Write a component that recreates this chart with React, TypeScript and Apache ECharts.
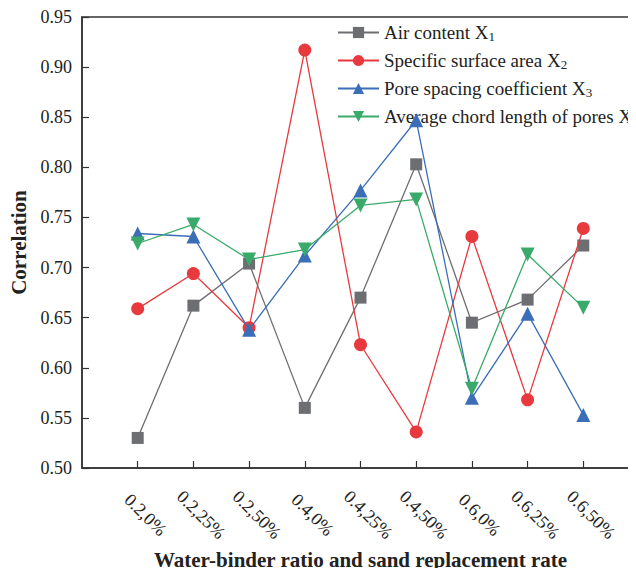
import React, { useEffect, useRef } from "react";
import * as echarts from "echarts";

const categories = ["0.2,0%", "0.2,25%", "0.2,50%", "0.4,0%", "0.4,25%", "0.4,50%", "0.6,0%", "0.6,25%", "0.6,50%"];
const airContent = [0.530, 0.662, 0.704, 0.560, 0.670, 0.803, 0.645, 0.668, 0.722];
const specificSurface = [0.659, 0.694, 0.640, 0.917, 0.623, 0.536, 0.731, 0.568, 0.739];
const poreSpacing = [0.734, 0.731, 0.638, 0.712, 0.777, 0.847, 0.570, 0.654, 0.553];
const chordLength = [0.724, 0.743, 0.708, 0.718, 0.762, 0.768, 0.579, 0.713, 0.660];
const seriesNames = ["Air content X1", "Specific surface area X2", "Pore spacing coefficient X3", "Average chord length of pores X4"];
const yTicks = { min: 0.5, max: 0.95, interval: 0.05 };

const FONT = "'Liberation Serif', 'Times New Roman', serif";

export default function App() {
  const ref = useRef<HTMLDivElement>(null);
  useEffect(() => {
    if (!ref.current) return;
    const chart = echarts.init(ref.current, undefined, { renderer: "svg" });
    const toPairs = (arr: number[]) => arr.map((v, i) => [i + 1, v]);
    const defs = [
      { data: airContent, color: "#6d6e71", symbol: "rect", size: 12 },
      { data: specificSurface, color: "#e8393e", symbol: "circle", size: 13 },
      { data: poreSpacing, color: "#3a6fb8", symbol: "triangle", size: 14 },
      { data: chordLength, color: "#3aaa6a", symbol: "path://M0,0 L10,0 L5,9 Z", size: 14 },
    ];
    chart.setOption({
      animation: false,
      backgroundColor: "#ffffff",
      textStyle: { fontFamily: FONT },
      grid: {
        left: 82,
        top: 17,
        right: -3,
        bottom: 108,
        containLabel: false,
        outerBoundsMode: "none",
        show: true,
        borderColor: "#333",
        borderWidth: 1.5,
      },
      legend: {
        orient: "vertical",
        left: 332,
        top: 18,
        itemWidth: 41,
        itemHeight: 14,
        itemGap: 8,
        textStyle: {
          fontFamily: FONT,
          fontSize: 19,
          color: "#222",
          rich: {
            n: { fontFamily: FONT, fontSize: 19, color: "#222" },
            sub: { fontFamily: FONT, fontSize: 13, color: "#222", verticalAlign: "bottom", padding: [8, 0, 0, 0] },
          },
        },
        formatter: (name: string) => name.replace(/^(.*X)(\d)$/, "{n|$1}{sub|$2}"),
        data: seriesNames,
      },
      xAxis: {
        type: "value",
        min: 0,
        max: categories.length + 1,
        interval: 1,
        name: "Water-binder ratio and sand replacement rate",
        nameLocation: "middle",
        nameGap: 81,
        nameTextStyle: { fontFamily: FONT, fontSize: 21, fontWeight: "bold", color: "#222" },
        axisLine: { show: true, lineStyle: { color: "#333", width: 1.5 } },
        axisTick: { show: true, inside: true, length: 7, lineStyle: { color: "#333", width: 1.2 } },
        splitLine: { show: false },
        axisLabel: {
          rotate: -45,
          align: "center",
          verticalAlign: "middle",
          margin: 39,
          padding: [0, 0, 8, 22],
          fontFamily: FONT,
          fontSize: 18,
          color: "#222",
          showMinLabel: false,
          showMaxLabel: false,
          formatter: (v: number) => categories[Math.round(v) - 1] ?? "",
        },
      },
      yAxis: {
        type: "value",
        min: yTicks.min,
        max: yTicks.max,
        interval: yTicks.interval,
        name: "Correlation",
        nameLocation: "middle",
        nameGap: 45,
        nameTextStyle: { fontFamily: FONT, fontSize: 21, fontWeight: "bold", color: "#222" },
        axisLine: { show: true, lineStyle: { color: "#333", width: 1.5 } },
        axisTick: { show: true, inside: true, length: 7, lineStyle: { color: "#333", width: 1.2 } },
        splitLine: { show: false },
        axisLabel: {
          margin: 10,
          fontFamily: FONT,
          fontSize: 18,
          color: "#222",
          formatter: (v: number) => v.toFixed(2),
        },
      },
      series: defs.map((d, i) => ({
        name: seriesNames[i],
        type: "line",
        data: toPairs(d.data),
        symbol: d.symbol,
        symbolSize: d.size,
        lineStyle: { color: d.color, width: 1.3 },
        itemStyle: { color: d.color },
        z: 2 + i,
      })),
    });
    return () => chart.dispose();
  }, []);
  return <div ref={ref} style={{ width: 636, height: 576, margin: -8 }} />;
}
